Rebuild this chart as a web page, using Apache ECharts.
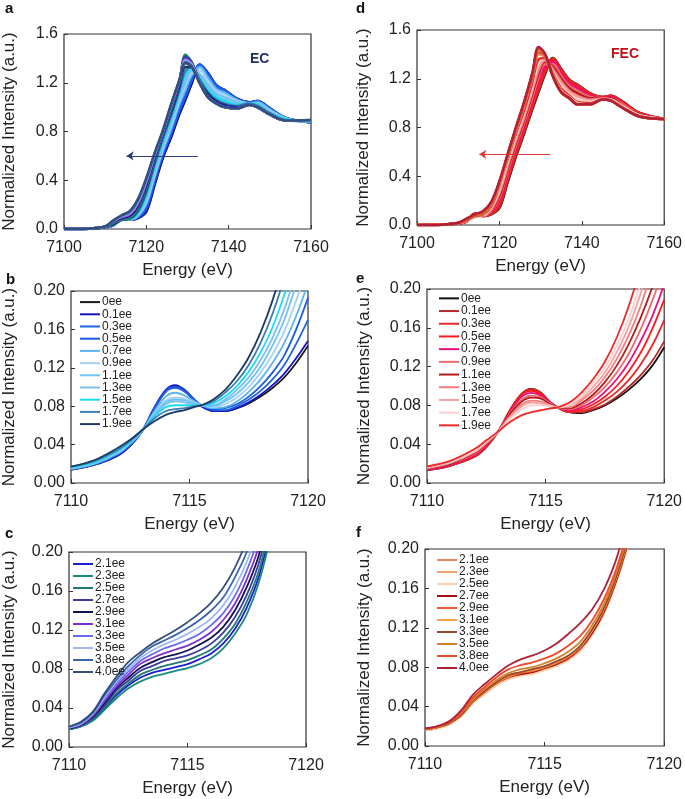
<!DOCTYPE html>
<html>
<head>
<meta charset="utf-8">
<script src="https://cdn.jsdelivr.net/npm/echarts@6/dist/echarts.min.js"></script>
<style>
  html, body {margin: 0; padding: 0; background: #fff;}
  #chart {width: 685px; height: 799px;}
</style>
</head>
<body>
<div id="chart"></div>
<script>
// energy grids (eV)
const energyWide = [7100, 7106, 7110, 7112, 7114, 7116, 7118, 7120, 7122, 7124, 7126, 7128, 7129.5, 7131, 7133, 7135, 7137, 7139, 7142, 7145, 7147, 7150, 7154, 7160];
const energyPreLow = [7110, 7111, 7112, 7112.5, 7113, 7113.5, 7114, 7114.4, 7114.8, 7115.2, 7115.5, 7116, 7116.5, 7117, 7117.5, 7118, 7118.5, 7119, 7119.5, 7120];
const energyPreHigh = [7110, 7110.5, 7111, 7111.5, 7112, 7112.5, 7113, 7113.5, 7114, 7114.5, 7115, 7115.5, 7116, 7116.5, 7117, 7117.5, 7118, 7118.5];

const labelsLow = ['0ee', '0.1ee', '0.3ee', '0.5ee', '0.7ee', '0.9ee', '1.1ee', '1.3ee', '1.5ee', '1.7ee', '1.9ee'];
const labelsHigh = ['2.1ee', '2.3ee', '2.5ee', '2.7ee', '2.9ee', '3.1ee', '3.3ee', '3.5ee', '3.8ee', '4.0ee'];

// a: EC, full edge (labelsLow then labelsHigh)
const ecWide = [
    [0, .003, .014, .030, .097, .076, .090, .143, .36, .58, .75, .94, 1.06, 1.19, 1.34, 1.27, 1.17, 1.14, 1.07, 1.04, 1.05, .99, .91, .875],
    [0, .003, .014, .030, .098, .076, .092, .148, .37, .59, .76, .95, 1.07, 1.20, 1.35, 1.28, 1.18, 1.14, 1.07, 1.04, 1.05, .99, .91, .875],
    [0, .003, .014, .031, .097, .077, .096, .170, .39, .61, .78, .97, 1.09, 1.22, 1.35, 1.27, 1.18, 1.14, 1.07, 1.04, 1.05, .99, .91, .875],
    [0, .003, .014, .031, .096, .078, .101, .193, .41, .62, .80, .99, 1.11, 1.24, 1.34, 1.26, 1.17, 1.13, 1.07, 1.04, 1.04, .98, .91, .875],
    [0, .003, .015, .032, .093, .079, .108, .21, .43, .64, .82, 1.02, 1.14, 1.26, 1.33, 1.24, 1.15, 1.12, 1.06, 1.03, 1.04, .98, .91, .88],
    [0, .003, .015, .033, .089, .080, .115, .225, .45, .66, .85, 1.05, 1.18, 1.28, 1.30, 1.21, 1.13, 1.10, 1.05, 1.03, 1.03, .97, .90, .88],
    [0, .003, .015, .034, .087, .080, .121, .245, .47, .68, .87, 1.08, 1.21, 1.30, 1.27, 1.18, 1.11, 1.08, 1.04, 1.03, 1.03, .96, .90, .88],
    [0, .003, .016, .035, .085, .081, .128, .26, .49, .70, .89, 1.10, 1.24, 1.31, 1.25, 1.16, 1.09, 1.06, 1.03, 1.03, 1.02, .96, .90, .88],
    [0, .003, .016, .036, .082, .083, .136, .28, .51, .72, .91, 1.12, 1.27, 1.32, 1.23, 1.14, 1.08, 1.05, 1.02, 1.03, 1.02, .95, .90, .885],
    [0, .003, .017, .037, .078, .085, .146, .30, .53, .74, .93, 1.14, 1.30, 1.33, 1.22, 1.12, 1.06, 1.03, 1.01, 1.03, 1.01, .95, .89, .885],
    [0, .003, .017, .038, .073, .087, .157, .32, .55, .76, .95, 1.16, 1.33, 1.33, 1.21, 1.11, 1.05, 1.02, 1.00, 1.02, 1.00, .94, .89, .89],
    [0, .003, .018, .053, .079, .096, .178, .35, .57, .77, .98, 1.19, 1.38, 1.35, 1.21, 1.10, 1.04, 1.01, 1.00, 1.02, 1.00, .94, .89, .89],
    [0, .003, .018, .050, .075, .091, .168, .34, .57, .77, .98, 1.20, 1.42, 1.37, 1.21, 1.09, 1.03, 1.00, .99, 1.02, 1.00, .94, .89, .89],
    [0, .003, .019, .055, .083, .100, .180, .35, .57, .78, .99, 1.20, 1.43, 1.37, 1.21, 1.09, 1.03, 1.00, .99, 1.02, 1.00, .94, .89, .89],
    [0, .003, .019, .058, .088, .106, .188, .36, .58, .78, .99, 1.20, 1.41, 1.36, 1.20, 1.09, 1.03, 1.00, .99, 1.02, 1.00, .94, .89, .89],
    [0, .003, .019, .060, .092, .112, .196, .37, .59, .79, 1.00, 1.21, 1.40, 1.36, 1.20, 1.09, 1.03, 1.00, .99, 1.02, 1.00, .94, .89, .89],
    [0, .003, .020, .062, .096, .118, .205, .38, .60, .79, 1.00, 1.21, 1.40, 1.36, 1.20, 1.08, 1.03, 1.00, .99, 1.02, 1.00, .94, .89, .89],
    [0, .003, .020, .065, .101, .125, .215, .39, .60, .80, 1.01, 1.21, 1.39, 1.35, 1.20, 1.08, 1.03, 1.00, .99, 1.02, 1.00, .94, .89, .89],
    [0, .003, .020, .067, .105, .132, .225, .40, .61, .80, 1.01, 1.22, 1.38, 1.35, 1.20, 1.08, 1.03, 1.00, .99, 1.02, 1.00, .94, .89, .89],
    [0, .003, .021, .069, .109, .140, .237, .41, .62, .80, 1.02, 1.22, 1.37, 1.34, 1.20, 1.08, 1.03, 1.00, .99, 1.02, 1.00, .94, .89, .895],
    [0, .003, .021, .072, .113, .148, .250, .42, .62, .81, 1.02, 1.22, 1.36, 1.33, 1.19, 1.08, 1.03, 1.00, .99, 1.02, 1.00, .94, .89, .895],
];

// b: EC pre-edge, 0ee..1.9ee
const ecPreLow = [
    [.014, .019, .029, .039, .054, .077, .096, .101, .096, .086, .080, .0755, .075, .078, .083, .090, .099, .110, .125, .143],
    [.014, .019, .029, .039, .054, .078, .097, .102, .097, .087, .080, .075, .075, .078, .084, .092, .102, .114, .130, .148],
    [.014, .019, .030, .040, .054, .077, .096, .100, .096, .087, .081, .076, .076, .080, .087, .096, .108, .123, .145, .170],
    [.015, .020, .030, .040, .054, .076, .095, .099, .095, .086, .081, .077, .078, .082, .090, .101, .115, .133, .160, .193],
    [.015, .020, .031, .041, .054, .074, .090, .094, .091, .085, .081, .078, .079, .085, .095, .108, .125, .146, .174, .208],
    [.015, .021, .032, .042, .054, .072, .086, .089, .088, .084, .081, .079, .082, .089, .100, .115, .134, .158, .190, .225],
    [.016, .021, .033, .042, .054, .071, .084, .087, .086, .083, .081, .080, .085, .093, .105, .121, .143, .170, .207, .245],
    [.016, .022, .033, .043, .055, .070, .082, .085, .084, .082, .081, .081, .087, .097, .110, .128, .151, .181, .220, .260],
    [.016, .022, .034, .043, .055, .069, .079, .081, .081, .081, .081, .083, .090, .101, .116, .136, .162, .196, .235, .280],
    [.017, .023, .035, .044, .055, .067, .075, .077, .078, .080, .081, .085, .094, .106, .123, .146, .176, .214, .260, .300],
    [.017, .024, .037, .045, .055, .064, .071, .074, .076, .079, .081, .087, .097, .112, .131, .157, .190, .232, .280, .320],
];

// c: EC pre-edge, 2.1ee..4.0ee
const ecPreHigh = [
    [.018, .021, .028, .040, .053, .063, .071, .076, .079, .082, .085, .090, .096, .106, .121, .143, .174, .222],
    [.018, .021, .027, .038, .050, .060, .067, .072, .075, .078, .081, .085, .091, .101, .116, .136, .168, .215],
    [.019, .022, .029, .041, .055, .065, .074, .079, .083, .086, .089, .094, .100, .111, .126, .149, .180, .228],
    [.019, .022, .030, .043, .058, .068, .078, .083, .088, .091, .094, .099, .106, .117, .133, .156, .188, .236],
    [.019, .023, .031, .045, .060, .071, .081, .087, .092, .095, .099, .105, .112, .123, .140, .164, .196, .245],
    [.020, .023, .032, .047, .062, .074, .085, .091, .096, .100, .104, .110, .118, .130, .147, .172, .205, .255],
    [.020, .024, .033, .049, .065, .077, .088, .095, .101, .105, .110, .116, .125, .137, .155, .181, .215, .265],
    [.020, .024, .034, .051, .067, .080, .091, .099, .105, .110, .116, .123, .132, .145, .164, .190, .225, .275],
    [.021, .025, .035, .053, .069, .083, .094, .103, .109, .115, .122, .130, .140, .153, .174, .200, .237, .290],
    [.021, .026, .036, .055, .072, .087, .097, .106, .113, .120, .128, .137, .148, .163, .184, .212, .250, .300],
];

// d: FEC, full edge
const fecWide = [
    [0, .003, .013, .027, .092, .073, .087, .140, .35, .56, .75, .95, 1.09, 1.23, 1.37, 1.28, 1.19, 1.15, 1.08, 1.05, 1.06, 1.01, .92, .87],
    [0, .003, .013, .027, .092, .073, .089, .146, .36, .57, .76, .96, 1.10, 1.24, 1.37, 1.28, 1.19, 1.15, 1.08, 1.05, 1.06, 1.01, .92, .87],
    [0, .003, .014, .028, .092, .073, .094, .168, .38, .59, .78, .98, 1.12, 1.26, 1.36, 1.27, 1.18, 1.14, 1.08, 1.05, 1.06, 1.00, .92, .87],
    [0, .003, .014, .028, .091, .074, .100, .189, .40, .61, .80, 1.00, 1.15, 1.28, 1.35, 1.26, 1.17, 1.13, 1.07, 1.04, 1.05, 1.00, .92, .87],
    [0, .003, .014, .029, .089, .075, .107, .205, .42, .63, .82, 1.03, 1.18, 1.30, 1.34, 1.24, 1.16, 1.12, 1.06, 1.04, 1.05, .99, .91, .87],
    [0, .003, .015, .030, .086, .076, .114, .222, .44, .65, .84, 1.05, 1.21, 1.32, 1.32, 1.22, 1.14, 1.10, 1.05, 1.04, 1.04, .99, .91, .87],
    [0, .003, .015, .031, .084, .077, .121, .24, .46, .67, .86, 1.08, 1.24, 1.34, 1.30, 1.20, 1.12, 1.08, 1.04, 1.04, 1.04, .98, .91, .87],
    [0, .003, .015, .032, .081, .078, .128, .26, .48, .69, .88, 1.10, 1.27, 1.35, 1.28, 1.18, 1.10, 1.06, 1.03, 1.04, 1.03, .98, .90, .87],
    [0, .003, .016, .032, .079, .080, .135, .28, .50, .71, .90, 1.12, 1.30, 1.36, 1.26, 1.16, 1.09, 1.05, 1.02, 1.03, 1.03, .97, .90, .87],
    [0, .003, .016, .033, .076, .081, .141, .295, .52, .73, .92, 1.14, 1.33, 1.37, 1.25, 1.14, 1.07, 1.03, 1.01, 1.03, 1.02, .97, .90, .87],
    [0, .003, .017, .035, .070, .083, .150, .32, .54, .75, .94, 1.17, 1.36, 1.37, 1.24, 1.12, 1.06, 1.01, 1.00, 1.03, 1.02, .96, .89, .87],
    [0, .003, .016, .044, .072, .088, .167, .33, .56, .77, .98, 1.21, 1.40, 1.38, 1.23, 1.10, 1.05, 1.00, .99, 1.03, 1.02, .96, .89, .87],
    [0, .003, .016, .044, .072, .088, .167, .335, .565, .77, .98, 1.21, 1.41, 1.38, 1.23, 1.10, 1.05, 1.00, .99, 1.03, 1.02, .96, .89, .87],
    [0, .003, .016, .043, .071, .087, .166, .33, .56, .78, .99, 1.22, 1.42, 1.39, 1.22, 1.10, 1.04, 1.00, .99, 1.03, 1.02, .96, .89, .87],
    [0, .003, .017, .045, .073, .089, .168, .34, .57, .78, .99, 1.22, 1.42, 1.39, 1.22, 1.09, 1.04, .99, .99, 1.03, 1.02, .96, .89, .87],
    [0, .003, .017, .045, .074, .090, .170, .34, .57, .78, .99, 1.23, 1.43, 1.39, 1.22, 1.09, 1.04, .99, .99, 1.03, 1.02, .96, .89, .87],
    [0, .003, .017, .046, .075, .091, .171, .345, .57, .79, 1.00, 1.23, 1.43, 1.40, 1.22, 1.09, 1.04, .99, .99, 1.03, 1.02, .96, .89, .87],
    [0, .003, .017, .046, .075, .092, .172, .35, .575, .79, 1.00, 1.23, 1.44, 1.40, 1.22, 1.09, 1.04, .99, .99, 1.03, 1.02, .96, .89, .87],
    [0, .003, .017, .047, .078, .096, .176, .35, .58, .79, 1.00, 1.24, 1.44, 1.40, 1.22, 1.09, 1.04, .99, .99, 1.03, 1.02, .96, .89, .87],
    [0, .003, .017, .049, .082, .102, .180, .355, .58, .80, 1.01, 1.24, 1.45, 1.40, 1.22, 1.09, 1.04, .99, .99, 1.03, 1.02, .96, .89, .87],
    [0, .003, .018, .052, .088, .114, .190, .36, .58, .80, 1.01, 1.25, 1.46, 1.41, 1.22, 1.09, 1.04, .99, .99, 1.03, 1.02, .96, .89, .87],
];

// e: FEC pre-edge, 0ee..1.9ee
const fecPreLow = [
    [.013, .018, .027, .037, .053, .075, .092, .097, .093, .083, .078, .073, .072, .075, .080, .087, .096, .107, .121, .140],
    [.013, .018, .027, .037, .053, .075, .092, .097, .093, .083, .078, .073, .073, .076, .081, .089, .099, .111, .126, .146],
    [.014, .018, .028, .038, .053, .075, .092, .096, .092, .083, .078, .073, .074, .078, .085, .094, .106, .122, .142, .168],
    [.014, .019, .028, .038, .053, .074, .091, .095, .091, .083, .078, .074, .076, .081, .089, .100, .115, .134, .159, .189],
    [.014, .019, .029, .039, .053, .073, .089, .093, .090, .083, .078, .075, .078, .084, .094, .107, .124, .146, .172, .205],
    [.015, .020, .030, .040, .053, .072, .086, .090, .088, .082, .078, .076, .080, .088, .099, .114, .133, .158, .188, .222],
    [.015, .020, .031, .040, .053, .071, .084, .088, .087, .081, .078, .077, .082, .091, .104, .121, .143, .170, .202, .240],
    [.015, .021, .032, .041, .053, .069, .081, .085, .084, .080, .078, .078, .085, .095, .109, .128, .152, .182, .220, .260],
    [.016, .021, .032, .042, .053, .068, .079, .083, .082, .080, .078, .080, .087, .099, .114, .135, .161, .195, .235, .280],
    [.016, .022, .033, .043, .053, .066, .076, .080, .080, .079, .078, .081, .090, .103, .119, .141, .169, .205, .250, .295],
    [.017, .023, .035, .044, .053, .063, .070, .073, .075, .077, .078, .083, .093, .107, .125, .150, .182, .222, .270, .320],
];

// f: FEC pre-edge, 2.1ee..4.0ee
const fecPreHigh = [
    [.016, .018, .022, .031, .044, .054, .063, .069, .072, .074, .078, .082, .088, .098, .114, .136, .167, .206],
    [.016, .018, .022, .030, .044, .053, .062, .068, .072, .074, .077, .082, .088, .097, .114, .136, .167, .206],
    [.016, .018, .022, .030, .043, .053, .062, .068, .071, .073, .077, .081, .087, .097, .113, .135, .166, .205],
    [.017, .019, .023, .031, .045, .055, .064, .070, .073, .075, .079, .083, .089, .099, .115, .137, .168, .207],
    [.017, .019, .023, .032, .045, .055, .064, .070, .074, .076, .080, .084, .090, .100, .117, .139, .170, .210],
    [.017, .019, .023, .032, .046, .056, .065, .071, .075, .077, .080, .085, .091, .101, .118, .140, .171, .210],
    [.017, .019, .023, .032, .046, .056, .065, .072, .075, .078, .081, .086, .092, .102, .119, .141, .172, .212],
    [.017, .019, .024, .033, .047, .058, .067, .074, .078, .080, .084, .089, .096, .106, .123, .145, .176, .215],
    [.017, .020, .024, .034, .049, .060, .070, .078, .082, .085, .089, .094, .102, .112, .128, .150, .180, .220],
    [.018, .020, .025, .036, .052, .063, .073, .082, .088, .092, .097, .104, .114, .125, .139, .160, .190, .235],
];

const colorsLowEC = ['#1a1a1a', '#1414c8', '#2064dc', '#1a58e6', '#5ab4f0', '#a8d0f4', '#6cc4f4', '#7cbfec', '#18dcf0', '#3c7cb0', '#1c3a64'];
const colorsHighEC = ['#1c1cd0', '#1a8a80', '#1f7a72', '#3c3ca0', '#121250', '#8030d0', '#6a6af0', '#a0b8f0', '#3a64b0', '#34507a'];
const colorsLowFEC = ['#111111', '#b82828', '#e82828', '#ff1a1a', '#e8107c', '#f06a6a', '#b41c1c', '#f47c7c', '#f4a4a4', '#fad0d0', '#f02828'];
const colorsHighFEC = ['#f4845a', '#f4a27a', '#fbd3a8', '#a01010', '#f05a3a', '#f8a048', '#9a4a2a', '#d4802a', '#f04a2a', '#b0203a'];

const FONT = 'Liberation Sans, Arial, sans-serif';
const INK = '#222';

const chart = echarts.init(document.getElementById('chart'), null, {renderer: 'canvas'});

const grids = [
    {left: 62, top: 34, width: 249, height: 195},   // a
    {left: 69, top: 291, width: 239, height: 192},  // b
    {left: 67, top: 552, width: 239, height: 195},  // c
    {left: 417, top: 30, width: 250, height: 195},  // d
    {left: 427, top: 289, width: 239, height: 194}, // e
    {left: 425, top: 549, width: 241, height: 197}, // f
].map(g => ({...g, show: true, borderColor: '#333', borderWidth: 1.2, backgroundColor: 'transparent'}));

const axisSpec = [
    {xMin: 7100, xMax: 7160, xStep: 20, yMax: 1.6, yStep: 0.4, dec: 1, yGap: 46},
    {xMin: 7110, xMax: 7120, xStep: 5, yMax: 0.2, yStep: 0.04, dec: 2, yGap: 53},
    {xMin: 7110, xMax: 7120, xStep: 5, yMax: 0.2, yStep: 0.04, dec: 2, yGap: 51},
    {xMin: 7100, xMax: 7160, xStep: 20, yMax: 1.6, yStep: 0.4, dec: 1, yGap: 45},
    {xMin: 7110, xMax: 7120, xStep: 5, yMax: 0.2, yStep: 0.04, dec: 2, yGap: 54},
    {xMin: 7110, xMax: 7120, xStep: 5, yMax: 0.2, yStep: 0.04, dec: 2, yGap: 52},
];

const xAxes = axisSpec.map((s, i) => ({
    gridIndex: i, type: 'value', min: s.xMin, max: s.xMax, interval: s.xStep,
    name: 'Energy (eV)', nameLocation: 'middle', nameGap: 33,
    nameTextStyle: {fontSize: 17, color: INK, fontFamily: FONT},
    axisLine: {show: false},
    axisTick: {show: true, inside: true, length: 4, lineStyle: {color: '#333'}},
    axisLabel: {fontSize: 16, color: INK, fontFamily: FONT, margin: 11, formatter: v => String(Math.round(v))},
    splitLine: {show: false},
}));

const yAxes = axisSpec.map((s, i) => ({
    gridIndex: i, type: 'value', min: 0, max: s.yMax, interval: s.yStep,
    name: 'Normalized Intensity (a.u.)', nameLocation: 'middle', nameGap: s.yGap,
    nameTextStyle: {fontSize: 17, color: INK, fontFamily: FONT},
    axisLine: {show: false},
    axisTick: {show: true, inside: true, length: 4, lineStyle: {color: '#333'}},
    axisLabel: {fontSize: 16, color: INK, fontFamily: FONT, margin: 6, formatter: v => v.toFixed(s.dec)},
    splitLine: {show: false},
}));

const lineSeries = (panel, gridIdx, labels, rows, energies, colors, width) =>
    labels.map((lab, i) => ({
        name: panel + '|' + lab,
        type: 'line',
        xAxisIndex: gridIdx,
        yAxisIndex: gridIdx,
        data: energies.map((e, j) => [e, rows[i][j]]),
        smooth: 0.35,
        symbol: 'none',
        clip: true,
        lineStyle: {color: colors[i], width},
        itemStyle: {color: colors[i]},
        emphasis: {disabled: true},
    }));

const arrow = (from, to, y, color) => ({
    silent: true,
    symbol: ['none', 'arrow'],
    symbolSize: 7,
    label: {show: false},
    lineStyle: {color, width: 1, type: 'solid'},
    data: [[{coord: [from, y]}, {coord: [to, y]}]],
});

const labelsAll = labelsLow.concat(labelsHigh);
const seriesA = lineSeries('a', 0, labelsAll, ecWide, energyWide, colorsLowEC.concat(colorsHighEC), 2.5);
seriesA[seriesA.length - 1].markLine = arrow(7132.5, 7115.2, 0.6, '#2b3b78');
const seriesD = lineSeries('d', 3, labelsAll, fecWide, energyWide, colorsLowFEC.concat(colorsHighFEC), 2.5);
seriesD[seriesD.length - 1].markLine = arrow(7132.4, 7115.1, 0.58, '#e03a3a');

const series = [
    ...seriesA,
    ...lineSeries('b', 1, labelsLow, ecPreLow, energyPreLow, colorsLowEC, 1.8),
    ...lineSeries('c', 2, labelsHigh, ecPreHigh, energyPreHigh, colorsHighEC, 1.8),
    ...seriesD,
    ...lineSeries('e', 4, labelsLow, fecPreLow, energyPreLow, colorsLowFEC, 1.8),
    ...lineSeries('f', 5, labelsHigh, fecPreHigh, energyPreHigh, colorsHighFEC, 1.8),
];

// legend rows: a flat rect stands in for the line sample
const legendFor = (panel, labels, left, top, rowH) => ({
    orient: 'vertical', left, top, padding: 0,
    icon: 'rect', itemWidth: 20, itemHeight: 2, itemGap: 0,
    selectedMode: false,
    data: labels.map(l => panel + '|' + l),
    formatter: name => name.split('|')[1],
    textStyle: {fontSize: 12, lineHeight: rowH, color: INK, fontFamily: FONT, padding: [0, 0, 0, -3]},
});

const panelLetter = (ch, x, y) => ({
    type: 'text', left: x, top: y,
    style: {text: ch, font: 'bold 15px ' + FONT, fill: '#111'},
});

chart.setOption({
    animation: false,
    grid: grids,
    xAxis: xAxes,
    yAxis: yAxes,
    legend: [
        legendFor('b', labelsLow, 80, 296, 12.2),
        legendFor('c', labelsHigh, 73, 558, 11.7),
        legendFor('e', labelsLow, 439, 292, 12.7),
        legendFor('f', labelsHigh, 437, 554, 12),
    ],
    graphic: [
        panelLetter('a', 5, 1),
        panelLetter('b', 6, 272),
        panelLetter('c', 5, 526),
        panelLetter('d', 356, 1),
        panelLetter('e', 356, 271),
        panelLetter('f', 356, 525),
        {type: 'text', left: 250, top: 52, style: {text: 'EC', font: 'bold 14px ' + FONT, fill: '#1f2f6f'}},
        {type: 'text', left: 611, top: 47, style: {text: 'FEC', font: 'bold 14px ' + FONT, fill: '#c0101a'}},
    ],
    series,
});
</script>
</body>
</html>
